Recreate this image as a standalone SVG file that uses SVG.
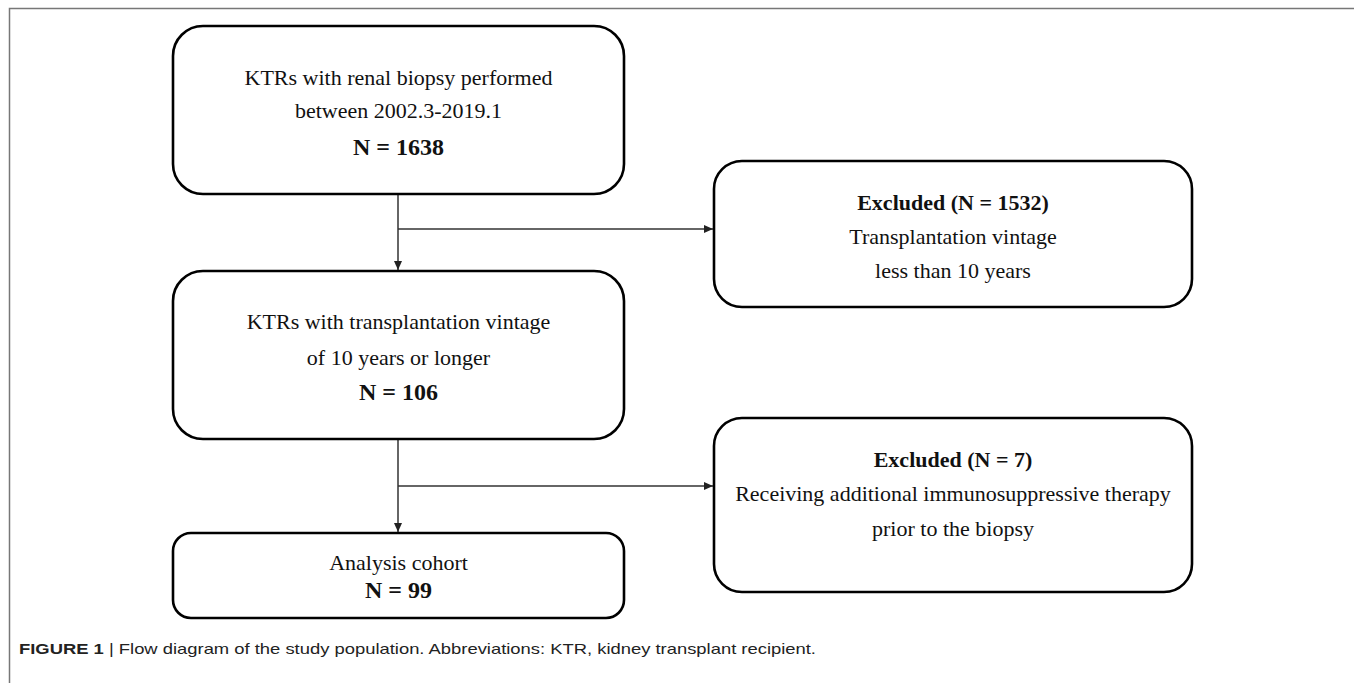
<svg xmlns="http://www.w3.org/2000/svg" width="1355" height="683" viewBox="0 0 1355 683">
<style>
.box{fill:#fff;stroke:#000;stroke-width:2.6}
.t{font-family:"Liberation Serif","Times New Roman",serif;font-size:22px;fill:#111;text-anchor:middle}
.b{font-weight:bold;font-size:22px}
.n{font-weight:bold;font-size:24px}
.conn{stroke:#333;stroke-width:1.5;fill:none}
.cap{font-family:"Liberation Sans",Arial,sans-serif;font-size:14.5px;fill:#222}
</style>
<defs>
<marker id="ah" markerWidth="10" markerHeight="8" refX="9" refY="4" orient="auto" markerUnits="userSpaceOnUse">
<path d="M0,0 L9,4 L0,8 Z" fill="#222"/>
</marker>
</defs>
<rect width="1355" height="683" fill="#fff"/>
<path d="M9.5,683 V8.5 H1354" fill="none" stroke="#777" stroke-width="1.5"/>
<g id="connectors">
<line class="conn" x1="398" y1="195" x2="398" y2="270" marker-end="url(#ah)"/>
<line class="conn" x1="398" y1="229" x2="713" y2="229" marker-end="url(#ah)"/>
<line class="conn" x1="398" y1="440" x2="398" y2="532" marker-end="url(#ah)"/>
<line class="conn" x1="398" y1="486" x2="713" y2="486" marker-end="url(#ah)"/>
</g>
<g id="n1">
<rect class="box" x="173" y="26" width="451" height="168" rx="30"/>
<text class="t" x="398.5" y="85">KTRs with renal biopsy performed</text>
<text class="t" x="398.5" y="118">between 2002.3-2019.1</text>
<text class="t n" x="398.5" y="155">N = 1638</text>
</g>
<g id="n2">
<rect class="box" x="714" y="161" width="478" height="146" rx="28"/>
<text class="t b" x="953" y="210">Excluded (N = 1532)</text>
<text class="t" x="953" y="244">Transplantation vintage</text>
<text class="t" x="953" y="278">less than 10 years</text>
</g>
<g id="n3">
<rect class="box" x="173" y="271" width="451" height="168" rx="30"/>
<text class="t" x="398.5" y="329">KTRs with transplantation vintage</text>
<text class="t" x="398.5" y="365">of 10 years or longer</text>
<text class="t n" x="398.5" y="400">N = 106</text>
</g>
<g id="n4">
<rect class="box" x="714" y="418" width="478" height="174" rx="28"/>
<text class="t b" x="953" y="467">Excluded (N = 7)</text>
<text class="t" x="953" y="501">Receiving additional immunosuppressive therapy</text>
<text class="t" x="953" y="536">prior to the biopsy</text>
</g>
<g id="n5">
<rect class="box" x="173" y="533" width="451" height="85" rx="18"/>
<text class="t" x="398.5" y="570">Analysis cohort</text>
<text class="t n" x="398.5" y="598">N = 99</text>
</g>
<text class="cap" x="19" y="654" textLength="797" lengthAdjust="spacingAndGlyphs"><tspan font-weight="bold">FIGURE 1</tspan> | Flow diagram of the study population. Abbreviations: KTR, kidney transplant recipient.</text>
</svg>
